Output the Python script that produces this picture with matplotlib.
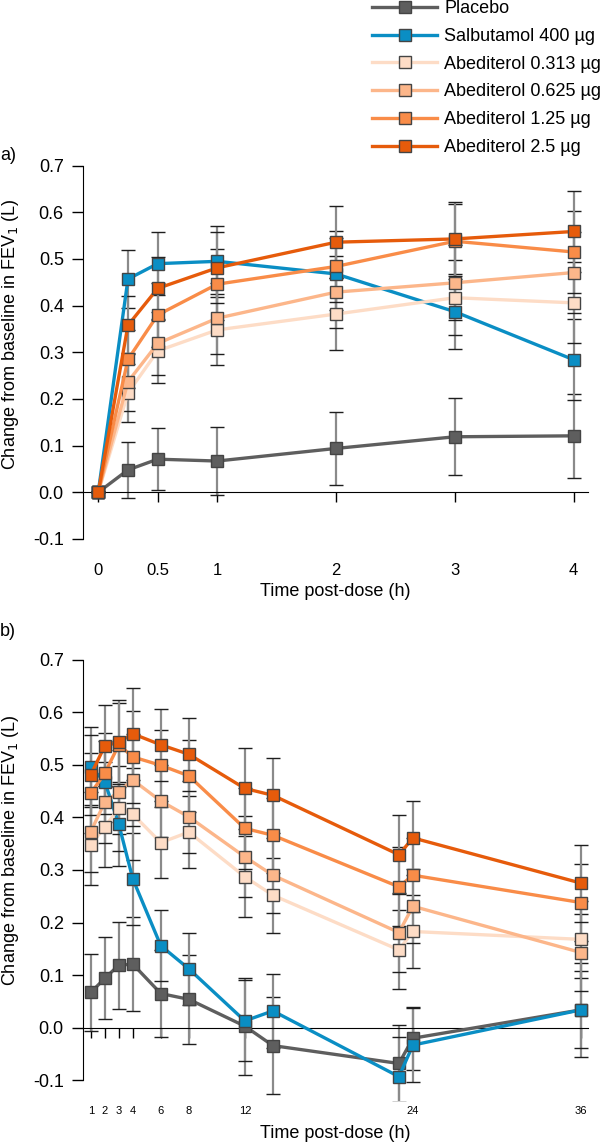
import numpy as np
import matplotlib
matplotlib.use('Agg')
import matplotlib.pyplot as plt

plt.rcParams['font.family'] = ['Liberation Sans', 'DejaVu Sans']
plt.rcParams['axes.unicode_minus'] = False

# ---- data ----
labels = ['Placebo', 'Salbutamol 400 µg', 'Abediterol 0.313 µg',
          'Abediterol 0.625 µg', 'Abediterol 1.25 µg', 'Abediterol 2.5 µg']
colors = ['#5e5e5e', '#0a8ec4', '#fddcc6', '#fcb68a', '#f98c48', '#e65b0b']

# panel a: first 4 h
times_a = [0, 0.25, 0.5, 1, 2, 3, 4]
placebo_a = [0, 0.048, 0.071, 0.067, 0.094, 0.119, 0.121]
salb_a = [0, 0.457, 0.490, 0.495, 0.468, 0.387, 0.284]
abe313_a = [0, 0.213, 0.303, 0.348, 0.382, 0.417, 0.406]
abe625_a = [0, 0.237, 0.319, 0.373, 0.429, 0.449, 0.471]
abe125_a = [0, 0.285, 0.380, 0.446, 0.484, 0.538, 0.515]
abe25_a = [0, 0.358, 0.437, 0.481, 0.536, 0.543, 0.559]
err_placebo_a = [0, 0.060, 0.067, 0.073, 0.078, 0.083, 0.090]
err_active_a = [0, 0.062, 0.068, 0.076, 0.077, 0.080, 0.087]

# panel b: 1 to 36 h
times_b = [1, 2, 3, 4, 6, 8, 12, 14, 23, 24, 36]
placebo_b = [0.067, 0.094, 0.119, 0.121, 0.065, 0.054, 0.003, -0.034, -0.068, -0.020, 0.034]
salb_b = [0.495, 0.468, 0.387, 0.283, 0.156, 0.112, 0.013, 0.032, -0.093, -0.033, 0.034]
abe313_b = [0.348, 0.382, 0.417, 0.406, 0.352, 0.372, 0.287, 0.252, 0.148, 0.183, 0.168]
abe625_b = [0.373, 0.429, 0.449, 0.471, 0.431, 0.401, 0.325, 0.290, 0.181, 0.231, 0.143]
abe125_b = [0.446, 0.484, 0.538, 0.515, 0.499, 0.479, 0.379, 0.366, 0.268, 0.290, 0.238]
abe25_b = [0.481, 0.536, 0.543, 0.559, 0.538, 0.520, 0.455, 0.442, 0.329, 0.361, 0.275]
err_placebo_b = [0.073, 0.078, 0.083, 0.090, 0.082, 0.084, 0.092, 0.092, 0.073, 0.060, 0.090]
err_active_b = [0.076, 0.077, 0.080, 0.087, 0.068, 0.069, 0.077, 0.071, 0.075, 0.070, 0.073]

xticks_a = [0, 0.5, 1, 2, 3, 4]
xticklabels_a = ['0', '0.5', '1', '2', '3', '4']
xticks_b = [1, 2, 3, 4, 6, 8, 12, 24, 36]
yticks = [-0.1, 0.0, 0.1, 0.2, 0.3, 0.4, 0.5, 0.6, 0.7]

series_a = [placebo_a, salb_a, abe313_a, abe625_a, abe125_a, abe25_a]
series_b = [placebo_b, salb_b, abe313_b, abe625_b, abe125_b, abe25_b]
errs_a = [err_placebo_a] + [err_active_a] * 5
errs_b = [err_placebo_b] + [err_active_b] * 5

FS = 13
ylab = 'Change from baseline in FEV$_1$ (L)'

fig = plt.figure(figsize=(6, 11.42), dpi=100)
ax_a = fig.add_axes([0.138, 0.5158, 0.842, 0.3473])
ax_b = fig.add_axes([0.138, 0.0356, 0.842, 0.396])


def draw_panel(ax, t, series, errs, xlim, ylim, tick_pad, tick_size):
    t = np.array(t)
    # error bars first (grey stems, dark caps)
    for y, e in zip(series, errs):
        _, caps, bars = ax.errorbar(t, y, yerr=e, fmt='none', ecolor='#8a8a8a',
                                    elinewidth=1.6, capsize=5, capthick=1.0, zorder=2)
        for c in caps:
            c.set_markeredgecolor('#1e1e1e')
    handles = []
    for y, col, lab in zip(series, colors, labels):
        h, = ax.plot(t, y, '-s', color=col, lw=2.4, ms=8, mfc=col,
                     mec='#444444', mew=1.0, label=lab, zorder=3)
        handles.append(h)
    ax.set_xlim(*xlim)
    ax.set_ylim(*ylim)
    ax.spines['top'].set_visible(False)
    ax.spines['right'].set_visible(False)
    ax.spines['bottom'].set_position(('data', 0))
    ax.spines['left'].set_bounds(-0.1, 0.7)
    ax.set_yticks(yticks)
    ax.set_yticklabels(['%.1f' % v for v in yticks])
    ax.tick_params(axis='y', direction='out', length=7.7, width=1, labelsize=FS, pad=6)
    ax.tick_params(axis='x', direction='out', length=7, width=1,
                   labelsize=tick_size, pad=tick_pad)
    return handles


handles = draw_panel(ax_a, times_a, series_a, errs_a, (-0.13, 4.12), (-0.13, 0.72), 44, 12)
ax_a.set_xticks(xticks_a)
ax_a.set_xticklabels(xticklabels_a)

draw_panel(ax_b, times_b, series_b, errs_b, (0.43, 36.5), (-0.14, 0.72), 49, 8)
ax_b.set_xticks(xticks_b)
ax_b.set_xticklabels([str(v) for v in xticks_b])

fig.text(335 / 600, 1 - 592 / 1142, 'Time post-dose (h)', ha='center', va='center', fontsize=FS)
fig.text(335 / 600, 1 - 1133 / 1142, 'Time post-dose (h)', ha='center', va='center', fontsize=FS)
fig.text(11 / 600, 1 - 334 / 1142, ylab, rotation=90, ha='center', va='center', fontsize=FS)
fig.text(11 / 600, 1 - 850 / 1142, ylab, rotation=90, ha='center', va='center', fontsize=FS)
fig.text(0.0, 1 - 155 / 1142, 'a)', ha='left', va='center', fontsize=FS)
fig.text(0.0, 1 - 631 / 1142, 'b)', ha='left', va='center', fontsize=FS)

fig.legend(handles=handles, loc='upper left', bbox_to_anchor=(0.62, 1.0),
           frameon=False, fontsize=FS, numpoints=1, handlelength=3.6,
           handletextpad=0.4, labelspacing=0.6, borderpad=0, borderaxespad=0)

fig.savefig('out.png', dpi=100)
